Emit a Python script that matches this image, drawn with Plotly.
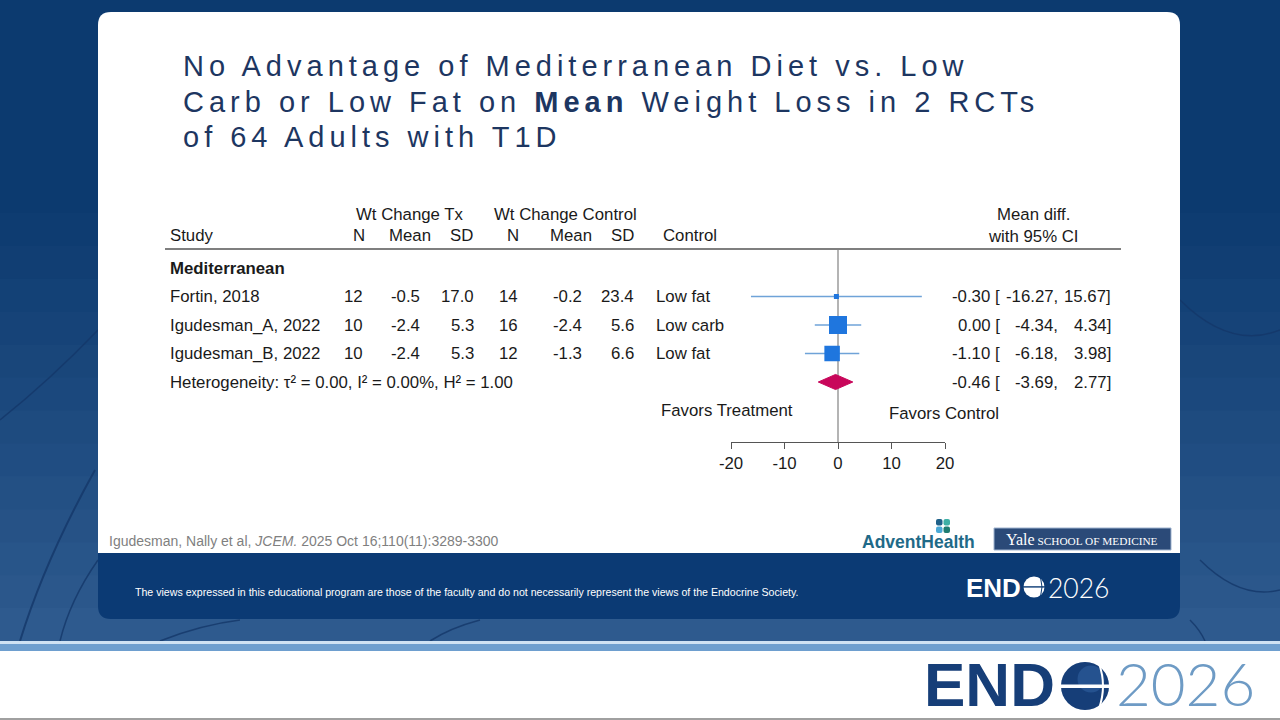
import plotly.graph_objects as go

W, H = 1280, 720


def px(x):
    return x / W


def py(y):
    return 1 - y / H


# ---------------- data ----------------
group_label = "Mediterranean"
studies = ["Fortin, 2018", "Igudesman_A, 2022", "Igudesman_B, 2022"]
tx_n = [12, 10, 10]
tx_mean = [-0.5, -2.4, -2.4]
tx_sd = [17.0, 5.3, 5.3]
ct_n = [14, 16, 12]
ct_mean = [-0.2, -2.4, -1.3]
ct_sd = [23.4, 5.6, 6.6]
controls = ["Low fat", "Low carb", "Low fat"]
md = [-0.30, 0.00, -1.10]
ci_lo = [-16.27, -4.34, -6.18]
ci_hi = [15.67, 4.34, 3.98]
pooled = [-0.46, -3.69, 2.77]          # estimate, lower, upper
heterogeneity = [0.00, 0.00, 1.00]     # tau2, I2 (%), H2
x_ticks = [-20, -10, 0, 10, 20]

group_row = 0
study_rows = [1, 2, 3]
pooled_row = 4

# ---------------- styles ----------------
FONT = "Liberation Sans, Arial, Helvetica, sans-serif"
TXT = "#1a1a1a"
FS = 16.8
marker_sizes = [5, 18, 15.5]
NAVY = "#0b3a74"

shapes = []
ann = []


def rect(x0, y0, x1, y1, color, layer="below", line=None):
    shapes.append(dict(type="rect", xref="paper", yref="paper",
                       x0=px(x0), x1=px(x1), y0=py(y1), y1=py(y0),
                       fillcolor=color, line=line or dict(width=0), layer=layer))


def rrect(x0, y0, x1, y1, rtl, rtr, rbr, rbl, color, layer="below"):
    d = (f"M {px(x0 + rtl)},{py(y0)} L {px(x1 - rtr)},{py(y0)} "
         f"Q {px(x1)},{py(y0)} {px(x1)},{py(y0 + rtr)} "
         f"L {px(x1)},{py(y1 - rbr)} Q {px(x1)},{py(y1)} {px(x1 - rbr)},{py(y1)} "
         f"L {px(x0 + rbl)},{py(y1)} Q {px(x0)},{py(y1)} {px(x0)},{py(y1 - rbl)} "
         f"L {px(x0)},{py(y0 + rtl)} Q {px(x0)},{py(y0)} {px(x0 + rtl)},{py(y0)} Z")
    shapes.append(dict(type="path", xref="paper", yref="paper", path=d,
                       fillcolor=color, line=dict(width=0), layer=layer))


def circle(cx, cy, r, color, layer="below"):
    shapes.append(dict(type="circle", xref="paper", yref="paper",
                       x0=px(cx - r), x1=px(cx + r), y0=py(cy + r), y1=py(cy - r),
                       fillcolor=color, line=dict(width=0), layer=layer))


def pline(x0, y0, x1, y1, color, width, layer="below"):
    shapes.append(dict(type="line", xref="paper", yref="paper",
                       x0=px(x0), x1=px(x1), y0=py(y0), y1=py(y1),
                       line=dict(color=color, width=width), layer=layer))


def arc(x0, y0, cxq, cyq, x1, y1, color, width, layer="below"):
    shapes.append(dict(type="path", xref="paper", yref="paper",
                       path=f"M {px(x0)},{py(y0)} Q {px(cxq)},{py(cyq)} {px(x1)},{py(y1)}",
                       line=dict(color=color, width=width), layer=layer))


def text(x, y, s, size=FS, color=TXT, xanchor="left", yref="paper",
         family=FONT, weight=None):
    f = dict(size=size, color=color, family=family)
    if weight is not None:
        f["weight"] = weight
    ann.append(dict(x=px(x), y=(py(y) if yref == "paper" else y), xref="paper",
                    yref=yref, text=s, showarrow=False, xanchor=xanchor,
                    yanchor="middle", font=f))


# ---------------- slide background ----------------
c0 = (12, 58, 111)
c1 = (46, 90, 142)
steps = 14
for k in range(steps):
    t = k / (steps - 1)
    col = tuple(int(c0[i] + (c1[i] - c0[i]) * t) for i in range(3))
    y0 = 180 + k * (641 - 180) / steps
    rect(0, y0, W, 641, "rgb(%d,%d,%d)" % col)

# faint "vein" strokes of the background picture
VEIN = "rgba(20,55,105,0.8)"
arc(20, 641, 45, 560, 95, 470, VEIN, 2)
arc(60, 641, 70, 600, 98, 560, VEIN, 1.5)
arc(0, 420, 50, 380, 98, 330, VEIN, 1.5)
arc(160, 641, 200, 625, 240, 620, VEIN, 1.5)
arc(430, 641, 450, 628, 480, 620, VEIN, 1.5)
arc(1180, 300, 1230, 350, 1280, 330, VEIN, 1.5)
arc(1190, 620, 1200, 630, 1205, 641, VEIN, 1.5)
arc(1200, 560, 1240, 600, 1280, 590, VEIN, 1.5)

# bottom stripe and white footer
rect(0, 641, W, 644, "#cfe2f3")
rect(0, 644, W, 651, "#6e9fcf")
rect(0, 651, W, 718, "#ffffff")
rect(0, 718, W, 720, "#a0a0a0")

# card
rrect(98, 12, 1180, 553, 13, 13, 0, 0, "#ffffff")
rrect(98, 553, 1180, 619, 0, 0, 13, 13, NAVY)

# header rule and zero line
pline(165, 249, 1121, 249, "#555555", 1.4)
shapes.append(dict(type="line", xref="x", yref="paper", x0=0, x1=0,
                   y0=py(442), y1=py(250), line=dict(color="#8c8c8c", width=1.3),
                   layer="below"))

# ---------------- title ----------------
TITLE_C = "#1d3661"
LS = "letter-spacing:5px"
title_lines = [
    "No Advantage of Mediterranean Diet vs. Low",
    "Carb or Low Fat on <b>Mean</b> Weight Loss in 2 RCTs",
    "of 64 Adults with T1D",
]
for s, yy in zip(title_lines, [66, 102, 137]):
    text(181, yy, f'<span style="{LS}">{s}</span>', size=29, color=TITLE_C)

# ---------------- table header ----------------
text(410, 214, "Wt Change Tx", xanchor="center")
text(565, 214, "Wt Change Control", xanchor="center")
text(168, 236, "Study")
for lab, xc in zip(["N", "Mean", "SD", "N", "Mean", "SD"],
                   [359, 410, 461, 513, 571, 622]):
    text(xc, 236, lab, xanchor="center")
text(661, 236, "Control")
text(1033, 214, "Mean diff.", xanchor="center")
text(1033, 237, "with 95% CI", xanchor="center")

# ---------------- table rows ----------------
text(168, group_row, f"<b>{group_label}</b>", yref="y")
for i, r in enumerate(study_rows):
    text(168, r, studies[i], yref="y")
    text(365, r, f"{tx_n[i]}", xanchor="right", yref="y")
    text(422, r, f"{tx_mean[i]:.1f}", xanchor="right", yref="y")
    text(476, r, f"{tx_sd[i]:.1f}", xanchor="right", yref="y")
    text(520, r, f"{ct_n[i]}", xanchor="right", yref="y")
    text(584, r, f"{ct_mean[i]:.1f}", xanchor="right", yref="y")
    text(636, r, f"{ct_sd[i]:.1f}", xanchor="right", yref="y")
    text(654, r, controls[i], yref="y")
    text(1002, r, f"{md[i]:.2f} [", xanchor="right", yref="y")
    text(1060, r, f"{ci_lo[i]:.2f},", xanchor="right", yref="y")
    text(1113, r, f"{ci_hi[i]:.2f}]", xanchor="right", yref="y")

tau2, i2, h2 = heterogeneity
text(168, pooled_row,
     f"Heterogeneity: \u03c4\u00b2 = {tau2:.2f}, I\u00b2 = {i2:.2f}%, H\u00b2 = {h2:.2f}",
     yref="y")
text(1002, pooled_row, f"{pooled[0]:.2f} [", xanchor="right", yref="y")
text(1060, pooled_row, f"{pooled[1]:.2f},", xanchor="right", yref="y")
text(1113, pooled_row, f"{pooled[2]:.2f}]", xanchor="right", yref="y")

text(727, 410, "Favors Treatment", xanchor="center")
text(944, 413, "Favors Control", xanchor="center")

# ---------------- footer texts ----------------
text(107, 541, "Igudesman, Nally et al, <i>JCEM.</i> 2025 Oct 16;110(11):3289-3300",
     size=14, color="#7f7f7f")
text(133, 592, "The views expressed in this educational program are those of the faculty "
     "and do not necessarily represent the views of the Endocrine Society.",
     size=10.6, color="#ffffff")

# AdventHealth logo
for (x0, y0, col) in [(936, 519, "#1f6189"), (943.5, 519, "#3fb0a6"),
                      (936, 526.5, "#4aa9d6"), (943.5, 526.5, "#1f7d72")]:
    rrect(x0, y0, x0 + 6.5, y0 + 6.5, 2, 2, 2, 2, col)
text(918, 542, "AdventHealth", size=17.5, color="#1f6a88", xanchor="center",
     weight="bold")

# Yale logo
rect(994, 528, 1171, 550, "#2b4a78", line=dict(color="#9fb3cf", width=1))
text(1082, 539, '<span style="font-size:16px">Yale</span> SCHOOL OF MEDICINE',
     size=11.3, color="#ffffff", xanchor="center",
     family="Liberation Serif, Times New Roman, serif")

# ENDO2026 (band, white)
text(1023, 588, "<b>END</b>", size=26, color="#ffffff", xanchor="right")
circle(1034, 587, 10.5, "#ffffff")
rect(1023, 586.2, 1045, 587.6, NAVY)
arc(1040.5, 577.3, 1043.5, 587, 1040.5, 596.7, NAVY, 1)
text(1046, 588, "2026", size=26.5, color="#ffffff", weight=300,
     family="Lato, Roboto, Liberation Sans, sans-serif")

# ENDO2026 (footer)
ENDC = "#163e78"
text(1057, 684, "<b>END</b>", size=62, color=ENDC, xanchor="right")
circle(1085, 686, 24, ENDC)
circle(1091, 679, 13.5, "#2d5c9c")
circle(1085, 686, 24, "rgba(22,62,120,0.35)")
rect(1060, 684.5, 1110, 688, "#ffffff")
arc(1099, 663.5, 1107, 686, 1099, 708.5, "#ffffff", 2)
text(1114, 682.5, "2026", size=60, color="#6e9bc5", weight=300,
     family="Lato, Roboto, Liberation Sans, sans-serif")

# ---------------- forest plot traces ----------------
fig = go.Figure()
fig.add_trace(go.Scatter(
    x=md, y=study_rows, mode="markers",
    marker=dict(symbol="square", size=marker_sizes, color="#1f76de",
                opacity=1, line=dict(width=0)),
    error_x=dict(type="data", symmetric=False,
                 array=[h - m for h, m in zip(ci_hi, md)],
                 arrayminus=[m - l for m, l in zip(md, ci_lo)],
                 color="#6fa3d8", thickness=1.6, width=0),
    hoverinfo="skip", cliponaxis=False))

dh = 0.265
fig.add_trace(go.Scatter(
    x=[pooled[1], pooled[0], pooled[2], pooled[0], pooled[1]],
    y=[pooled_row, pooled_row - dh, pooled_row, pooled_row + dh, pooled_row],
    mode="lines", fill="toself", fillcolor="#c8065a",
    line=dict(color="#c8065a", width=1), hoverinfo="skip"))

fig.update_layout(
    template="none",
    width=W, height=H, autosize=False,
    margin=dict(l=0, r=0, t=0, b=0, pad=0, autoexpand=False),
    paper_bgcolor="#0c3a6f", plot_bgcolor="rgba(0,0,0,0)",
    showlegend=False, shapes=shapes, annotations=ann,
    xaxis=dict(domain=[px(731), px(945)], range=[-20, 20], tickvals=x_ticks,
               ticktext=[str(t) for t in x_ticks], anchor="free", position=py(442),
               showline=True, linecolor="#555555", linewidth=1.2, ticks="outside",
               ticklen=6, tickwidth=1.2, tickcolor="#555555",
               tickfont=dict(size=FS, color=TXT, family=FONT), automargin=False,
               showgrid=False, zeroline=False, fixedrange=True),
    yaxis=dict(domain=[py(453.25), py(196.75)], range=[6.5, -2.5], visible=False,
               automargin=False, fixedrange=True),
)

fig.write_html(
    "out.html",
    config={"displayModeBar": False},
    post_script="document.body.style.margin='0';document.body.style.padding='0';"
                "document.body.style.overflow='hidden';",
)
